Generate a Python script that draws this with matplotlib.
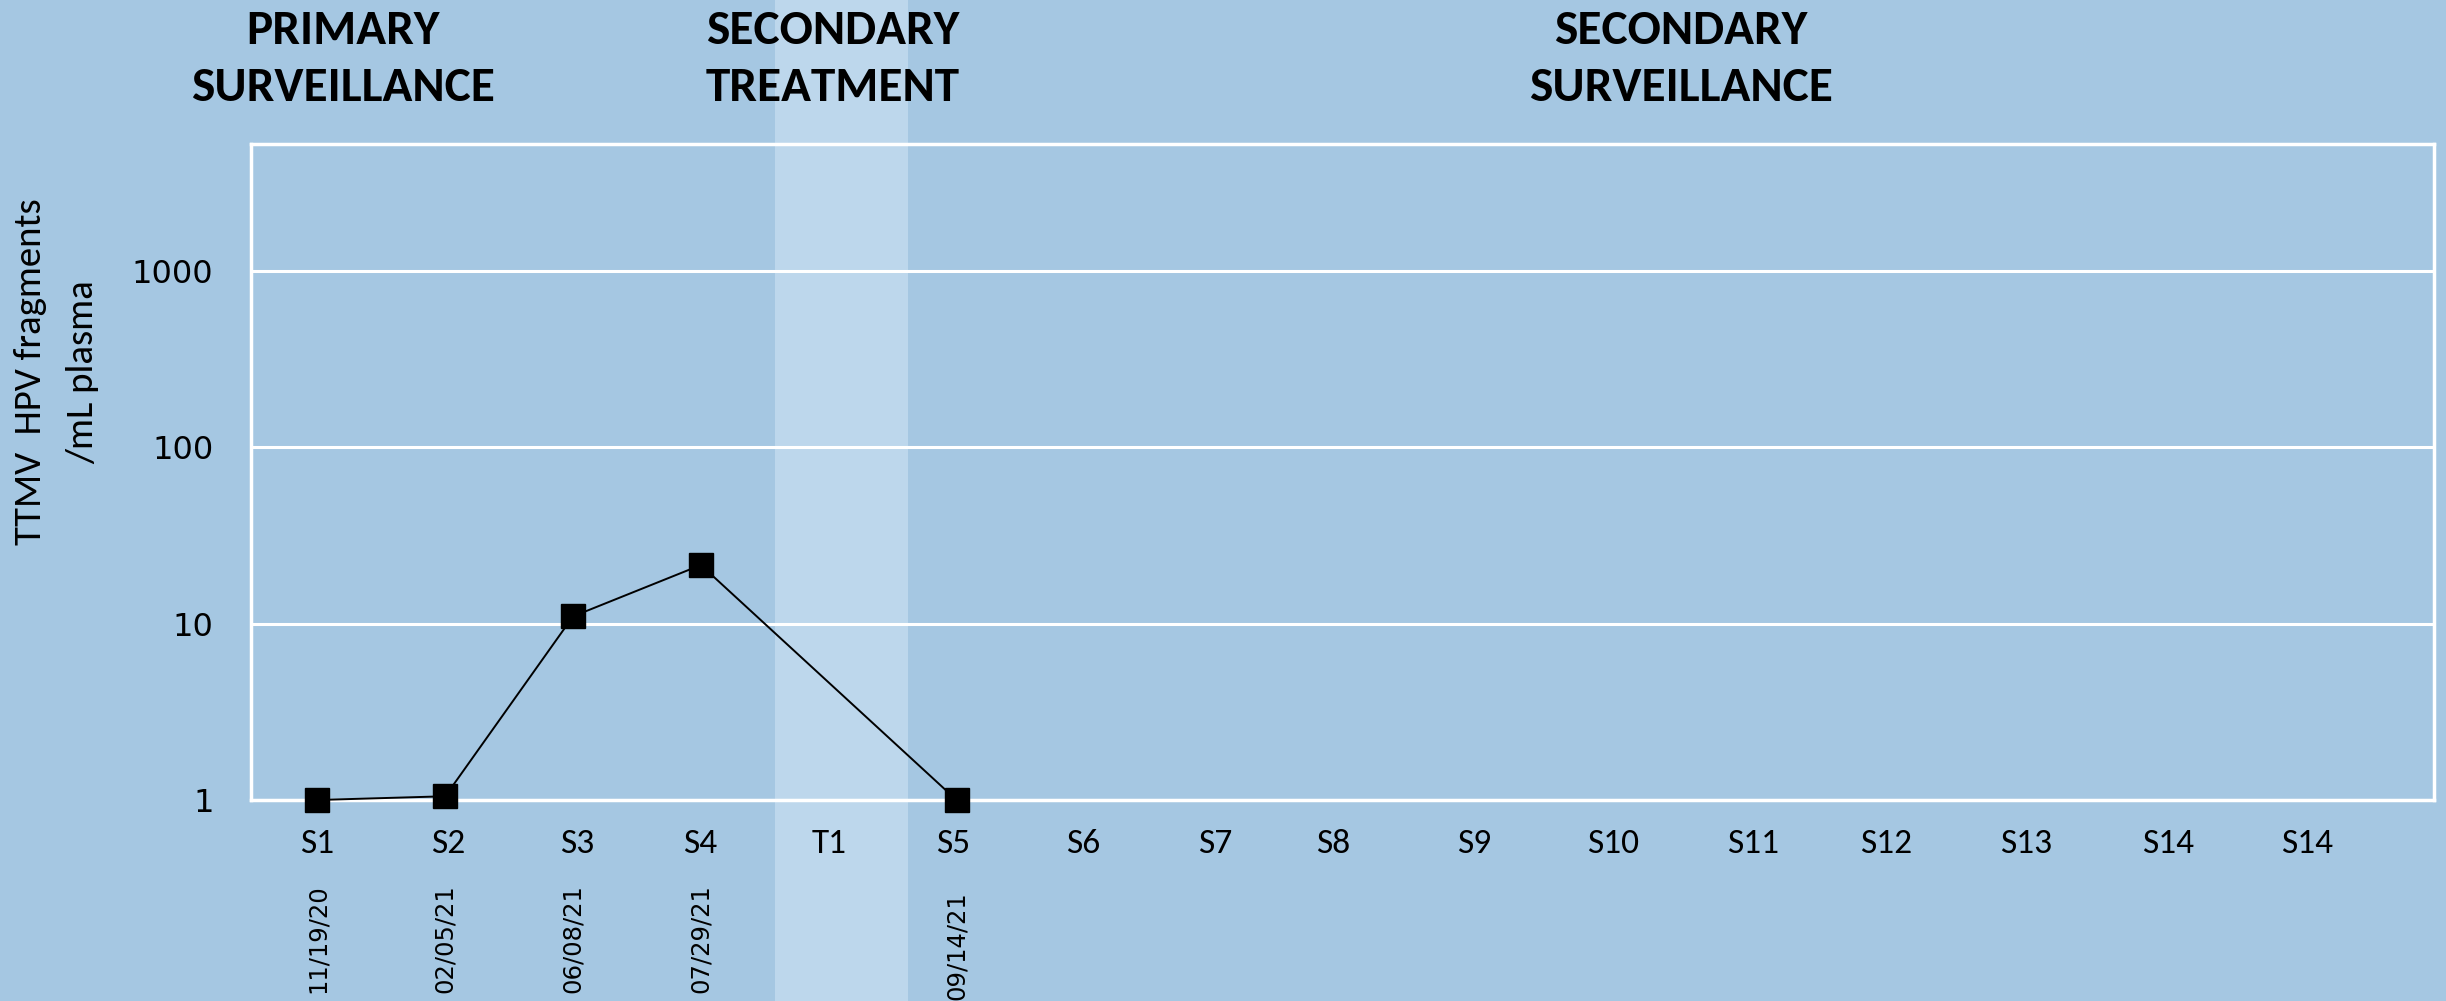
import matplotlib
matplotlib.use("Agg")
import matplotlib.pyplot as plt
from matplotlib.transforms import blended_transform_factory

# ---- data ----
sample_x = [0, 1, 2, 3, 5]
sample_vals = [1.0, 1.05, 11.0, 21.5, 1.0]
sample_dates = ["11/19/20", "02/05/21", "06/08/21", "07/29/21", "09/14/21"]
tick_labels = ["S1", "S2", "S3", "S4", "T1", "S5", "S6", "S7", "S8", "S9",
               "S10", "S11", "S12", "S13", "S14", "S14"]
tick_pos = [0, 1.02, 2.03, 2.99, 4.0, 4.97, 5.99, 7.02, 7.95, 9.05,
            10.14, 11.23, 12.27, 13.37, 14.48, 15.57]
y_ticks = [1, 10, 100, 1000]
treatment_span = (3.58, 4.62)
phase_titles = [("PRIMARY", "SURVEILLANCE", 343),
                ("SECONDARY", "TREATMENT", 833),
                ("SECONDARY", "SURVEILLANCE", 1681)]

W, H = 2446, 1001
BG = "#a5c7e2"
BAND = "#bdd7ec"
NARROW = ["Carlito", "Liberation Sans Narrow", "DejaVu Sans"]

fig = plt.figure(figsize=(W / 100, H / 100), dpi=100, facecolor=BG)
left, right, top, bottom = 251, 2434, 144, 800
ax = fig.add_axes([left / W, 1 - bottom / H, (right - left) / W, (bottom - top) / H])
ax.set_facecolor("none")

ax.set_yscale("log")
ax.set_ylim(1, 10 ** 3.72)
ax.set_xlim(-0.52, 16.56)

# treatment band spanning full figure height
ax_b = 1 - bottom / H
ax_h = (bottom - top) / H
ax.axvspan(treatment_span[0], treatment_span[1], ymin=-ax_b / ax_h,
           ymax=(1 - ax_b) / ax_h, color=BAND, zorder=0, clip_on=False, lw=0)

ax.set_axisbelow(True)
ax.grid(axis="y", which="major", color="white", lw=2.2)
ax.grid(axis="x", visible=False)
ax.minorticks_off()
for s in ax.spines.values():
    s.set_color("white")
    s.set_linewidth(2.5)

ax.plot(sample_x, sample_vals, color="black", lw=1.4, marker="s",
        markersize=17.5, markerfacecolor="black", markeredgecolor="black", zorder=3,
        clip_on=False)

ax.set_yticks(y_ticks)
ax.set_yticklabels([str(v) for v in y_ticks], fontsize=23, family="DejaVu Sans")
ax.set_xticks(tick_pos)
ax.set_xticklabels(tick_labels, fontsize=25.5, family=NARROW)
ax.tick_params(axis="both", length=0)
ax.tick_params(axis="y", pad=27)
ax.tick_params(axis="x", pad=21)

# dates below ticks
trans = blended_transform_factory(ax.transData, fig.transFigure)
for i, (x, d) in enumerate(zip(sample_x, sample_dates)):
    ytop = 884 if i < 4 else 891
    ax.text(x, 1 - ytop / H, d, transform=trans, rotation=90, ha="center",
            va="top", fontsize=17.5, family="DejaVu Sans", clip_on=False)

# y label (two lines)
fig.text(31 / W, 1 - 372 / H, "TTMV  HPV fragments", rotation=90, ha="center",
         va="center", fontsize=28, family=NARROW)
fig.text(83 / W, 1 - 372 / H, "/mL plasma", rotation=90, ha="center",
         va="center", fontsize=28, family=NARROW)

# phase titles
for l1, l2, xc in phase_titles:
    fig.text(xc / W, 1 - 31 / H, l1, ha="center", va="center", fontsize=35.5,
             fontweight="bold", family=NARROW)
    fig.text(xc / W, 1 - 88 / H, l2, ha="center", va="center", fontsize=35.5,
             fontweight="bold", family=NARROW)

fig.savefig("out.png", dpi=100, facecolor=BG)
